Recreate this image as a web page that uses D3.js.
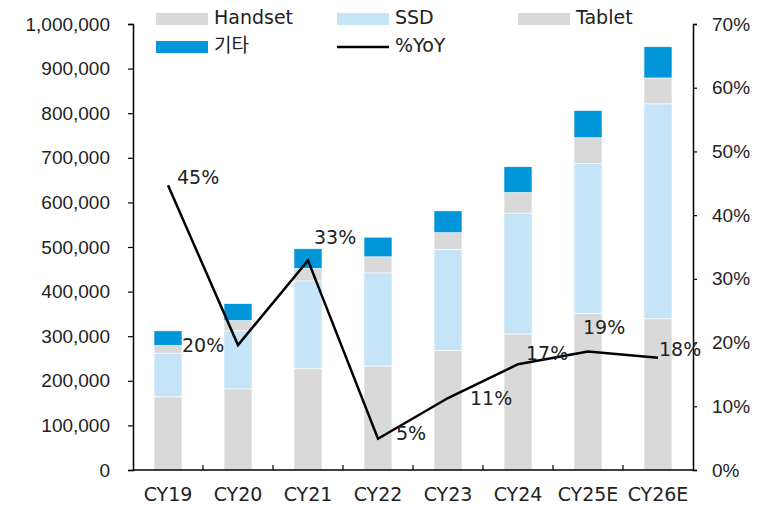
<!DOCTYPE html>
<html>
<head>
<meta charset="utf-8">
<script src="https://cdn.jsdelivr.net/npm/d3@7"></script>
<style>
  body { margin: 0; background: #fff; }
  svg { font-family: "DejaVu Sans", "Noto Sans CJK KR", sans-serif; }
</style>
</head>
<body>
<div id="chart"></div>
<script>
// data
const years = ["CY19", "CY20", "CY21", "CY22", "CY23", "CY24", "CY25E", "CY26E"];
const handset = [164000, 182000, 227000, 233000, 268000, 305000, 351000, 339000];
const ssd = [98000, 130000, 197000, 209000, 227000, 271000, 336000, 482000];
const tablet = [17000, 23000, 28000, 36000, 37000, 46000, 58000, 58000];
const etc = [33000, 38000, 44000, 44000, 49000, 58000, 61000, 70000];
const yoy = [0.447, 0.196, 0.329, 0.049, 0.113, 0.166, 0.186, 0.176];

const leftTicks = [0, 100000, 200000, 300000, 400000, 500000, 600000, 700000, 800000, 900000, 1000000];
const rightTicks = [0, 0.1, 0.2, 0.3, 0.4, 0.5, 0.6, 0.7];

const width = 758, height = 506;
const margin = { left: 133, right: 65, top: 24, bottom: 36 };

// where each %YoY label sits relative to its point
const labelOffset = [[9, -8], [-56, 0], [6, -23], [18, -5], [22, 0], [8, -11], [-5, -24], [1, -9]];

const svg = d3.select("#chart")
    .append("svg")
    .attr("width", width)
    .attr("height", height);

const x = d3.scaleBand()
    .domain(years)
    .range([margin.left, width - margin.right])
    .paddingInner(0.6)
    .paddingOuter(0.3);

const y = d3.scaleLinear()
    .domain([0, 1000000])
    .range([height - margin.bottom, margin.top]);

const y2 = d3.scaleLinear()
    .domain([0, 0.7])
    .range([height - margin.bottom, margin.top]);

const keys = ["Handset", "SSD", "Tablet", "기타"];
const colors = { "Handset": "#d9d9d9", "SSD": "#c6e4f8", "Tablet": "#d9d9d9", "기타": "#0096d9" };

const rows = years.map((yr, i) => ({
    year: yr, "Handset": handset[i], "SSD": ssd[i], "Tablet": tablet[i], "기타": etc[i]
}));

const stacked = d3.stack().keys(keys)(rows);

// bars
svg.append("g")
    .selectAll("g")
    .data(stacked)
    .enter()
    .append("g")
    .attr("fill", (d) => colors[d.key])
    .selectAll("rect")
    .data((d) => d)
    .enter()
    .append("rect")
    .attr("x", (d) => x(d.data.year))
    .attr("y", (d) => y(d[1]))
    .attr("width", x.bandwidth())
    .attr("height", (d) => y(d[0]) - y(d[1]))
    .attr("stroke", "#fff")
    .attr("stroke-width", 0.6);

// left axis
svg.append("g")
    .attr("transform", `translate(${margin.left},0)`)
    .call(d3.axisLeft(y).tickValues(leftTicks).tickSize(5).tickPadding(18).tickFormat(d3.format(",")))
    .call((g) => g.select(".domain").attr("stroke", "#000").attr("stroke-width", 1.5))
    .call((g) => g.selectAll(".tick line").attr("stroke", "#000").attr("stroke-width", 1.2))
    .call((g) => g.selectAll("text").attr("font-size", "19px").attr("fill", "#222"));

// right axis
svg.append("g")
    .attr("transform", `translate(${width - margin.right},0)`)
    .call(d3.axisRight(y2).tickValues(rightTicks).tickSize(4).tickPadding(15).tickFormat(d3.format(".0%")))
    .call((g) => g.select(".domain").attr("stroke", "#000").attr("stroke-width", 1.5))
    .call((g) => g.selectAll(".tick line").attr("stroke", "#000").attr("stroke-width", 1.2))
    .call((g) => g.selectAll("text").attr("font-size", "19px").attr("fill", "#222"));

// bottom axis
const base = height - margin.bottom;
const xAxis = svg.append("g");
xAxis.append("line")
    .attr("x1", margin.left)
    .attr("x2", width - margin.right)
    .attr("y1", base)
    .attr("y2", base)
    .attr("stroke", "#000")
    .attr("stroke-width", 1.5);
xAxis.selectAll(".xtick")
    .data(years.slice(1))
    .enter()
    .append("line")
    .attr("x1", (d) => x(d) - x.step() * 0.3)
    .attr("x2", (d) => x(d) - x.step() * 0.3)
    .attr("y1", base)
    .attr("y2", base - 5)
    .attr("stroke", "#000")
    .attr("stroke-width", 1.2);
xAxis.selectAll(".xlabel")
    .data(years)
    .enter()
    .append("text")
    .attr("x", (d) => x(d) + x.bandwidth() / 2)
    .attr("y", base + 31)
    .attr("text-anchor", "middle")
    .attr("font-size", "19px")
    .attr("fill", "#222")
    .text((d) => d);

// %YoY line
const line = d3.line()
    .x((d, i) => x(years[i]) + x.bandwidth() / 2)
    .y((d) => y2(d));

svg.append("path")
    .datum(yoy)
    .attr("fill", "none")
    .attr("stroke", "#000")
    .attr("stroke-width", 2.5)
    .attr("stroke-linejoin", "miter")
    .attr("d", line);

svg.selectAll(".yoylabel")
    .data(yoy)
    .enter()
    .append("text")
    .attr("x", (d, i) => x(years[i]) + x.bandwidth() / 2 + labelOffset[i][0])
    .attr("y", (d, i) => y2(d) + labelOffset[i][1])
    .attr("dy", "0.35em")
    .attr("font-size", "19px")
    .attr("fill", "#222")
    .text((d) => d3.format(".0%")(d));

// legend
const legendItems = [
    { name: "Handset", type: "rect", col: 0, row: 0 },
    { name: "SSD", type: "rect", col: 1, row: 0 },
    { name: "Tablet", type: "rect", col: 2, row: 0 },
    { name: "기타", type: "rect", col: 0, row: 1 },
    { name: "%YoY", type: "line", col: 1, row: 1 }
];
const legend = svg.append("g");
const item = legend.selectAll("g")
    .data(legendItems)
    .enter()
    .append("g")
    .attr("transform", (d) => `translate(${156 + d.col * 181},${19 + d.row * 28})`);
item.filter((d) => d.type === "rect")
    .append("rect")
    .attr("x", 0)
    .attr("y", -6)
    .attr("width", 52)
    .attr("height", 12)
    .attr("fill", (d) => colors[d.name]);
item.filter((d) => d.type === "line")
    .append("line")
    .attr("x1", 0)
    .attr("x2", 52)
    .attr("y1", 0)
    .attr("y2", 0)
    .attr("stroke", "#000")
    .attr("stroke-width", 2.5);
item.append("text")
    .attr("x", 58)
    .attr("y", -2)
    .attr("dy", "0.35em")
    .attr("font-size", "19px")
    .attr("fill", "#222")
    .text((d) => d.name);
</script>
</body>
</html>
